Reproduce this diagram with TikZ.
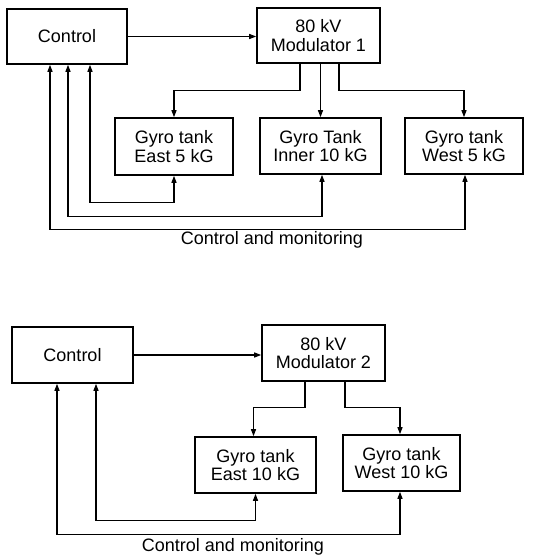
\documentclass[tikz,border=0pt]{standalone}
\usepackage{fontspec}
\setmainfont{Liberation Sans}
\usetikzlibrary{arrows.meta}
\begin{document}
\begin{tikzpicture}[x=1pt,y=-1pt,
  box/.style={draw,line width=1.6pt,rectangle,inner sep=0pt,align=center,font=\fontsize{18}{18.5}\selectfont},
  lab/.style={font=\fontsize{18}{18.5}\selectfont,inner sep=0pt},
  arr/.style={line width=1.2pt,-{Triangle[length=7pt,width=5pt]}},
  darr/.style={line width=1.2pt,{Triangle[length=7pt,width=5pt]}-{Triangle[length=7pt,width=5pt]}}]
\useasboundingbox (0,0) rectangle (545,556);
% top diagram
\node[box,minimum width=120pt,minimum height=55pt] (ctl1) at (67,36.5) {Control};
\node[box,minimum width=123pt,minimum height=55pt] (mod1) at (318.5,35.5) {80 kV\\Modulator 1};
\node[box,minimum width=118pt,minimum height=57pt] (e1) at (174,146.5) {Gyro tank\\East 5 kG};
\node[box,minimum width=121pt,minimum height=56pt] (i1) at (320.5,146) {Gyro Tank\\Inner 10 kG};
\node[box,minimum width=118pt,minimum height=56pt] (w1) at (464,146) {Gyro tank\\West 5 kG};
\node[lab] (lab1) at (272,240) {Control and monitoring};
\draw[arr] (ctl1.east) -- (ctl1.east -| mod1.west);
\draw[arr] ([xshift=-18.5pt]mod1.south) -- ++(0,27) -| (e1.north);
\draw[arr] (mod1.south -| i1.north) -- (i1.north);
\draw[arr] ([xshift=20.5pt]mod1.south) -- ++(0,27) -| (w1.north);
\draw[darr] ([xshift=23pt]ctl1.south) -- ++(0,138) -| (e1.south);
\draw[darr] ([xshift=1pt]ctl1.south) -- ++(0,152) -| ([xshift=1.5pt]i1.south);
\draw[darr] ([xshift=-17pt]ctl1.south) -- ++(0,165) -| ([xshift=1pt]w1.south);
% bottom diagram
\node[box,minimum width=121pt,minimum height=56pt] (ctl2) at (72.5,355) {Control};
\node[box,minimum width=123pt,minimum height=56pt] (mod2) at (323.5,353) {80 kV\\Modulator 2};
\node[box,minimum width=121pt,minimum height=56pt] (e2) at (255.5,465) {Gyro tank\\East 10 kG};
\node[box,minimum width=117pt,minimum height=56pt] (w2) at (401.5,463) {Gyro tank\\West 10 kG};
\node[lab] (lab2) at (233,547) {Control and monitoring};
\draw[arr] (ctl2.east) -- (ctl2.east -| mod2.west);
\draw[arr] ([xshift=-18.5pt]mod2.south) -- ++(0,26) -| ([xshift=-2pt]e2.north);
\draw[arr] ([xshift=21.5pt]mod2.south) -- ++(0,26) -| ([xshift=-1.5pt]w2.north);
\draw[darr] ([xshift=23.5pt]ctl2.south) -- ++(0,137) -| (e2.south);
\draw[darr] ([xshift=-15.5pt]ctl2.south) -- ++(0,151) -| ([xshift=-1.5pt]w2.south);
\end{tikzpicture}
\end{document}
